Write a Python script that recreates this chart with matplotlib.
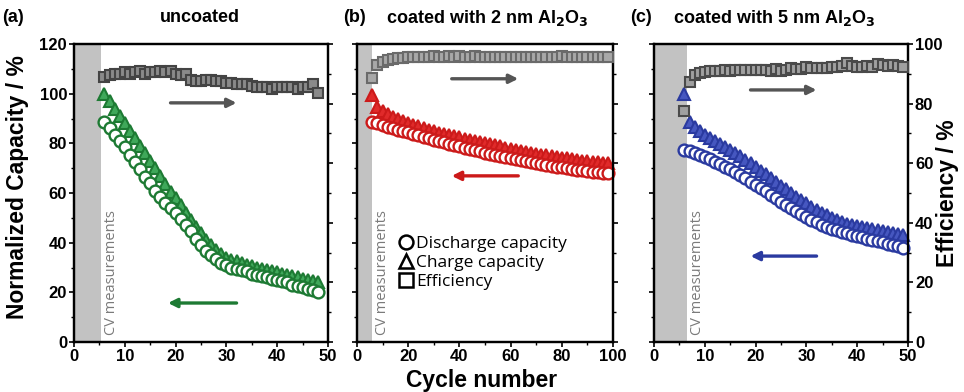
import matplotlib
matplotlib.use("Agg")
import matplotlib.pyplot as plt
from matplotlib.lines import Line2D
from matplotlib.ticker import MultipleLocator

plt.rcParams['font.family'] = ['Liberation Sans', 'DejaVu Sans']

# ---------------- data ----------------
cyc_a = list(range(6, 49))
charge_a = [100, 97, 94, 91, 88, 85, 82, 79, 76, 73, 70, 67, 63.5, 60.5, 58, 55, 52, 49,
            46.5, 44, 41, 39, 37, 35.5, 34, 33, 32.5, 32, 31, 30.5, 30, 29.5, 29, 28.5,
            28, 27.5, 27, 26.5, 26, 25.5, 25, 24.5, 24]
discharge_a = [88.5, 86, 83.5, 81, 78.5, 75.5, 72.5, 69.5, 66.5, 64, 61, 58.5, 56, 54, 52,
               49.5, 47, 44.5, 41.5, 39, 36.5, 35, 33.5, 32, 31, 30, 29.5, 29, 28.5, 27.5,
               27, 26.5, 26, 25.5, 25, 24.5, 24, 23, 22.5, 22, 21.5, 21, 20]
eff_a = [89, 89.5, 90, 90, 90.5, 90, 90.5, 91, 90, 90.5, 90.5, 91, 90.5, 91, 90, 89.5, 90,
         88, 87.5, 87.5, 88, 88, 87.5, 87.5, 87, 87, 86.5, 86.5, 86.5, 86, 85.5, 85.5, 85.5,
         85, 85.5, 85.5, 85.5, 85.5, 85, 85.5, 85.5, 86.5, 83.5]

cyc_b = list(range(6, 99, 2))
charge_b = [99.5, 94.5, 93, 91.8, 90.8, 89.8, 89, 88.2, 87.4, 86.8, 86.1, 85.5, 84.9, 84.3,
            83.8, 83.3, 82.8, 82.4, 81.9, 81.4, 81, 80.5, 80.1, 79.6, 79.2, 78.8, 78.3,
            77.9, 77.5, 77.1, 76.7, 76.3, 75.9, 75.5, 75.2, 74.8, 74.5, 74.2, 73.9, 73.6,
            73.3, 73, 72.8, 72.6, 72.4, 72.2, 72]
discharge_b = [88.7, 88, 87.3, 86.6, 86, 85.4, 84.9, 84.4, 83.8, 83.2, 82.6, 82, 81.4, 80.9,
               80.4, 79.8, 79.3, 78.8, 78.3, 77.8, 77.3, 76.8, 76.3, 75.8, 75.3, 74.9, 74.4,
               74, 73.6, 73.2, 72.8, 72.4, 72, 71.6, 71.3, 70.9, 70.6, 70.3, 70, 69.7, 69.4,
               69.1, 68.9, 68.6, 68.4, 68.2, 68]
eff_b = [88.7, 93, 94, 94.6, 95, 95.2, 95.4, 95.6, 95.6, 95.8, 95.7, 95.8, 95.9, 95.7, 95.8,
         95.9, 95.8, 95.9, 95.7, 95.8, 95.9, 95.7, 95.8, 95.7, 95.8, 95.7, 95.6, 95.7, 95.8,
         95.6, 95.7, 95.6, 95.7, 95.6, 95.8, 95.7, 95.6, 95.9, 95.7, 95.6, 95.7, 95.6, 95.7,
         95.6, 95.7, 95.6, 95.6]

cyc_c = list(range(6, 50))
charge_c = [100, 88.5, 86.5, 85, 83.5, 82.2, 81, 79.7, 78.4, 77.2, 76, 74.7, 73.4, 72, 70.5,
            69, 67.5, 66, 64.5, 63, 61.5, 60, 58.5, 57.3, 56, 54.5, 53.2, 52, 51, 50, 49.2,
            48.4, 47.7, 47.2, 46.8, 46.4, 46, 45.6, 45.2, 44.8, 44.4, 44, 43.6, 43.2]
discharge_c = [77.5, 76.8, 76, 75.2, 74.4, 73.5, 72.6, 71.6, 70.6, 69.5, 68.3, 67.1, 65.9,
               64.6, 63.3, 62, 60.7, 59.3, 57.9, 56.5, 55.1, 53.8, 52.6, 51.4, 50.3, 49.2,
               48.2, 47.3, 46.4, 45.6, 44.9, 44.3, 43.7, 43.1, 42.6, 42.1, 41.6, 41.1, 40.6,
               40.1, 39.6, 39.1, 38.6, 38]
eff_c = [77.5, 87.3, 89.5, 90.2, 90.6, 90.8, 91, 91, 91.2, 91.1, 91.3, 91.2, 91.4, 91.3,
         91.2, 91.4, 91.3, 91.1, 91.5, 90.8, 91.2, 91.8, 91.5, 91.7, 92.3, 91.8, 92, 91.9,
         92.1, 92.4, 92.2, 92.6, 93.6, 92.5, 92.3, 92.4, 92.6, 92.4, 93.3, 92.8, 92.5, 93,
         92.6, 92.2]

titles = ["uncoated", r"coated with 2 nm Al$_\mathbf{2}$O$_\mathbf{3}$",
          r"coated with 5 nm Al$_\mathbf{2}$O$_\mathbf{3}$"]
letters = ["(a)", "(b)", "(c)"]
legend_labels = ["Discharge capacity", "Charge capacity", "Efficiency"]

# ---------------- styling ----------------
W, H = 964, 392
fig = plt.figure(figsize=(W / 100, H / 100), dpi=100)
plt.rcParams['mathtext.default'] = 'bf'

def fx(px):
    return px / W

def fy(py):
    return 1 - py / H

top, bot = 44, 342
panels = [
    dict(left=74, right=328, cyc=cyc_a, ch=charge_a, dc=discharge_a, ef=eff_a, xmax=50,
         xmaj=10, xmin=5, band=5.4, edge='#1d7a33', face='#3fa85a',
         garrow=(19, 32, 96.3), carrow=(32, 18.5, 15.7), gsq_face='#8a8a8a', gsq_edge='#444444'),
    dict(left=357, right=613, cyc=cyc_b, ch=charge_b, dc=discharge_b, ef=eff_b, xmax=100,
         xmaj=20, xmin=10, band=5.8, edge='#cc1a1a', face='#e02a2a',
         garrow=(37, 63, 106), carrow=(63, 37, 66.9), gsq_face='#a8a8a8', gsq_edge='#6a6a6a'),
    dict(left=654, right=908, cyc=cyc_c, ch=charge_c, dc=discharge_c, ef=eff_c, xmax=50,
         xmaj=10, xmin=5, band=6.5, edge='#2a3aa0', face='#4657c0',
         garrow=(19, 32, 101.5), carrow=(32, 19, 34.6), gsq_face='#a0a0a0', gsq_edge='#4a4a4a'),
]

for i, p in enumerate(panels):
    wpx = p['right'] - p['left']
    ax = fig.add_axes([fx(p['left']), fy(bot), fx(wpx), (bot - top) / H])
    ax2 = ax.twinx()
    ax.set_xlim(0, p['xmax'])
    ax.set_ylim(0, 120)
    ax2.set_ylim(0, 100)
    ax.axvspan(0, p['band'], color='#c2c2c2', lw=0, zorder=0)

    ax.plot(p['cyc'], p['ch'], ls='none', marker='^', ms=9, mfc=p['face'], mec=p['edge'],
            mew=1.5, zorder=3, clip_on=False)
    ax.plot(p['cyc'], p['dc'], ls='none', marker='o', ms=8.5, mfc='white', mec=p['edge'],
            mew=1.7, zorder=4, clip_on=False)
    ax2.plot(p['cyc'], p['ef'], ls='none', marker='s', ms=7.5, mfc=p['gsq_face'],
             mec=p['gsq_edge'], mew=1.5, zorder=3, clip_on=False)

    g0, g1, gy = p['garrow']
    ax.annotate('', xy=(g1, gy), xytext=(g0, gy),
                arrowprops=dict(arrowstyle='-|>', color='#555555', lw=2.4,
                                mutation_scale=13, shrinkA=0, shrinkB=0))
    c0, c1, cy = p['carrow']
    ax.annotate('', xy=(c1, cy), xytext=(c0, cy),
                arrowprops=dict(arrowstyle='-|>', color=p['edge'], lw=2.4,
                                mutation_scale=13, shrinkA=0, shrinkB=0))

    ax.text(p['band'] + 0.012 * p['xmax'], 3, "CV measurements", rotation=90,
            ha='left', va='bottom', color='#7a7a7a', fontsize=10.5,
            family=['Open Sans', 'DejaVu Sans'])

    ax.xaxis.set_major_locator(MultipleLocator(p['xmaj']))
    ax.xaxis.set_minor_locator(MultipleLocator(p['xmin']))
    ax.yaxis.set_major_locator(MultipleLocator(20))
    ax.yaxis.set_minor_locator(MultipleLocator(10))
    ax2.yaxis.set_major_locator(MultipleLocator(20))
    ax2.yaxis.set_minor_locator(MultipleLocator(10))

    for a in (ax, ax2):
        for s in a.spines.values():
            s.set_linewidth(1.6)
        a.tick_params(which='major', direction='out', length=3.5, width=1.2,
                      labelsize=12, pad=1.5)
        a.tick_params(which='minor', direction='out', length=2, width=1.0)
    for lab in ax.get_xticklabels() + ax.get_yticklabels() + ax2.get_yticklabels():
        lab.set_fontweight('bold')

    if i != 0:
        ax.set_yticklabels([])
    if i != 2:
        ax2.set_yticklabels([])
    else:
        ax2.set_ylabel("Efficiency / %", fontsize=16.5, fontweight='bold')
        ax2.yaxis.set_label_coords((936 - p['left']) / wpx, 0.5)
    if i == 0:
        ax.set_ylabel("Normalized Capacity / %", fontsize=16.5, fontweight='bold')
        ax.yaxis.set_label_coords((29 - p['left']) / wpx, 0.52)

    if i == 1:
        handles = [Line2D([], [], ls='none', marker='o', ms=10, mfc='white', mec='black', mew=1.8),
                   Line2D([], [], ls='none', marker='^', ms=10, mfc='white', mec='black', mew=1.8),
                   Line2D([], [], ls='none', marker='s', ms=10, mfc='white', mec='black', mew=1.8)]
        ax.legend(handles, legend_labels, loc='center left', bbox_to_anchor=(0.11, 0.265),
                  frameon=False, handletextpad=0.1, handlelength=1.0, labelspacing=0.15,
                  borderpad=0.2, prop={'family': ['Open Sans', 'DejaVu Sans'], 'size': 12.5})

    fig.text(fx([2, 343, 630][i]), fy(18), letters[i], fontsize=13, fontweight='bold',
             ha='left', va='center')
    fig.text(fx([200, 487, 774][i]), fy(18), titles[i], fontsize=13, fontweight='bold',
             ha='center', va='center')

fig.text(fx(482), fy(381), "Cycle number", fontsize=16.5, fontweight='bold',
         ha='center', va='center')

fig.savefig("out.png", dpi=100)
